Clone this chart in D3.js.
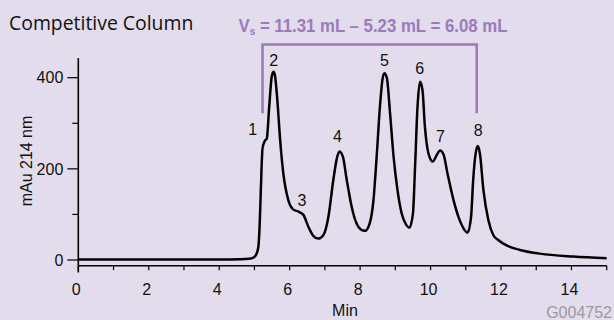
<!DOCTYPE html>
<html>
<head>
<meta charset="utf-8">
<script src="https://cdn.jsdelivr.net/npm/d3@7"></script>
<style>
  body { margin: 0; background: #e2dcec; }
  svg { display: block; }
</style>
</head>
<body>
<svg id="chart"></svg>
<script>
var width = 614,
    height = 320;

// chromatogram trace (min, mAu)
var times = [0, 2, 4, 4.6, 4.85, 4.97, 5.05, 5.11, 5.15, 5.18, 5.23, 5.30, 5.35, 5.42, 5.49, 5.54, 5.58, 5.65, 5.73, 5.82, 5.96, 6.10, 6.25, 6.39, 6.53, 6.67, 6.81, 6.96, 7.10, 7.24, 7.34, 7.41, 7.51, 7.62, 7.76, 7.90, 8.02, 8.14, 8.27, 8.38, 8.47, 8.57, 8.64, 8.69, 8.76, 8.85, 8.95, 9.06, 9.18, 9.31, 9.40, 9.50, 9.56, 9.63, 9.70, 9.77, 9.84, 9.94, 10.06, 10.18, 10.27, 10.37, 10.48, 10.65, 10.79, 10.93, 11.05, 11.15, 11.21, 11.28, 11.34, 11.40, 11.50, 11.64, 11.78, 11.92, 12.16, 12.54, 13.1, 14.05, 15];
var mau = [1, 1, 1, 1.5, 2.5, 5, 12, 28, 80, 150, 245, 262, 266, 337, 402, 413, 406, 351, 263, 190, 132, 111, 106, 99, 73, 53, 47, 55, 95, 176, 223, 238, 227, 176, 117, 80, 67, 64, 80, 132, 227, 344, 399, 410, 399, 322, 227, 154, 102, 77, 71, 102, 205, 337, 391, 373, 292, 234, 216, 231, 240, 231, 190, 132, 95, 70, 60, 95, 176, 234, 250, 234, 154, 88, 55, 44, 32, 22, 14, 7.5, 4];

var peakNames = ["1", "2", "3", "4", "5", "6", "7", "8"];
var peakTimes = [4.95, 5.55, 6.35, 7.36, 8.69, 9.69, 10.28, 11.35];
var peakLabelMau = [275, 425, 118, 260, 425, 408, 260, 272];

var xTicks = [0, 2, 4, 6, 8, 10, 12, 14];
var xMinor = d3.range(0, 16);
var yTicks = [0, 200, 400];
var yMinor = [100, 300];

var vStart = 5.23, vEnd = 11.31;

var x = d3.scaleLinear().domain([0, 15]).range([78.3, 606.7]);
var y = d3.scaleLinear().domain([0, 400]).range([260, 77.7]);

var purple = "#9b7bbb";

var svg = d3.select("#chart")
    .attr("width", width)
    .attr("height", height)
    .style("font-family", "'Liberation Sans', Arial, sans-serif");

svg.append("rect")
    .attr("width", width)
    .attr("height", height)
    .attr("fill", "#e2dcec");

// title
svg.append("text")
    .attr("x", 9)
    .attr("y", 29.5)
    .attr("font-family", "'Open Sans', sans-serif")
    .attr("font-size", 19.4)
    .attr("fill", "#111")
    .text("Competitive Column");

// formula, squeezed to the condensed look of the original
var formula = svg.append("text")
    .attr("font-weight", "bold")
    .attr("font-size", 18.5)
    .attr("fill", purple);
formula.append("tspan").text("V");
formula.append("tspan").attr("font-size", 11).attr("dy", 3).text("s");
formula.append("tspan").attr("dy", -3).text(" = 11.31 mL \u2013 5.23 mL = 6.08 mL");
var fw = formula.node().getComputedTextLength();
formula.attr("transform", "translate(238.5,31.7) scale(" + (269 / fw) + ",1)");

// bracket for separation volume
var bracketTop = 473, bracketEnd = 322;
svg.append("path")
    .attr("d", d3.line()([[x(vStart), y(bracketEnd)], [x(vStart), y(bracketTop)], [x(vEnd), y(bracketTop)], [x(vEnd), y(bracketEnd)]]))
    .attr("fill", "none")
    .attr("stroke", purple)
    .attr("stroke-width", 2.6);

// y axis
var yAxis = svg.append("g")
    .attr("transform", "translate(" + x(0) + ",0)");
yAxis.append("line")
    .attr("y1", y(443)).attr("y2", 272.5)
    .attr("stroke", "#000").attr("stroke-width", 1.6);
yAxis.selectAll(".ymaj").data(yTicks).enter().append("line")
    .attr("x1", -11).attr("x2", 0)
    .attr("y1", d => y(d)).attr("y2", d => y(d))
    .attr("stroke", "#000").attr("stroke-width", 1.2);
yAxis.selectAll(".ymin").data(yMinor).enter().append("line")
    .attr("x1", -6).attr("x2", 0)
    .attr("y1", d => y(d)).attr("y2", d => y(d))
    .attr("stroke", "#000").attr("stroke-width", 1.2);
yAxis.selectAll(".ylab").data(yTicks).enter().append("text")
    .attr("x", -15)
    .attr("y", d => y(d))
    .attr("dy", "0.36em")
    .attr("text-anchor", "end")
    .attr("font-size", 16)
    .attr("fill", "#111")
    .text(d => d);

svg.append("text")
    .attr("transform", "translate(32,161) rotate(-90)")
    .attr("text-anchor", "middle")
    .attr("font-size", 16)
    .attr("fill", "#111")
    .text("mAu 214 nm");

// x axis
var axisY = 265.7;
var xAxis = svg.append("g")
    .attr("transform", "translate(0," + axisY + ")");
xAxis.append("line")
    .attr("x1", x(0)).attr("x2", x(15))
    .attr("stroke", "#000").attr("stroke-width", 1.6);
xAxis.selectAll(".xmin").data(xMinor).enter().append("line")
    .attr("x1", d => x(d)).attr("x2", d => x(d))
    .attr("y1", 0).attr("y2", 4.5)
    .attr("stroke", "#000").attr("stroke-width", 1.2);
xAxis.selectAll(".xlab").data(xTicks).enter().append("text")
    .attr("x", d => x(d) - 2)
    .attr("y", 29.3)
    .attr("text-anchor", "middle")
    .attr("font-size", 16)
    .attr("fill", "#111")
    .text(d => d);

svg.append("text")
    .attr("x", 345)
    .attr("y", 316)
    .attr("text-anchor", "middle")
    .attr("font-size", 16)
    .attr("fill", "#111")
    .text("Min");

svg.append("text")
    .attr("x", 612)
    .attr("y", 318)
    .attr("text-anchor", "end")
    .attr("font-size", 16)
    .attr("fill", "#9a9a9a")
    .text("G004752");

// trace
var trace = d3.zip(times, mau);
svg.append("path")
    .datum(trace)
    .attr("d", d3.line()
        .x(d => x(d[0]))
        .y(d => y(d[1]))
        .curve(d3.curveMonotoneX))
    .attr("fill", "none")
    .attr("stroke", "#000")
    .attr("stroke-width", 2.5)
    .attr("stroke-linejoin", "round");

// peak numbers
svg.selectAll(".peak").data(peakNames).enter().append("text")
    .attr("x", (d, i) => x(peakTimes[i]))
    .attr("y", (d, i) => y(peakLabelMau[i]))
    .attr("text-anchor", "middle")
    .attr("font-size", 16)
    .attr("fill", "#111")
    .text(d => d);
</script>
</body>
</html>
